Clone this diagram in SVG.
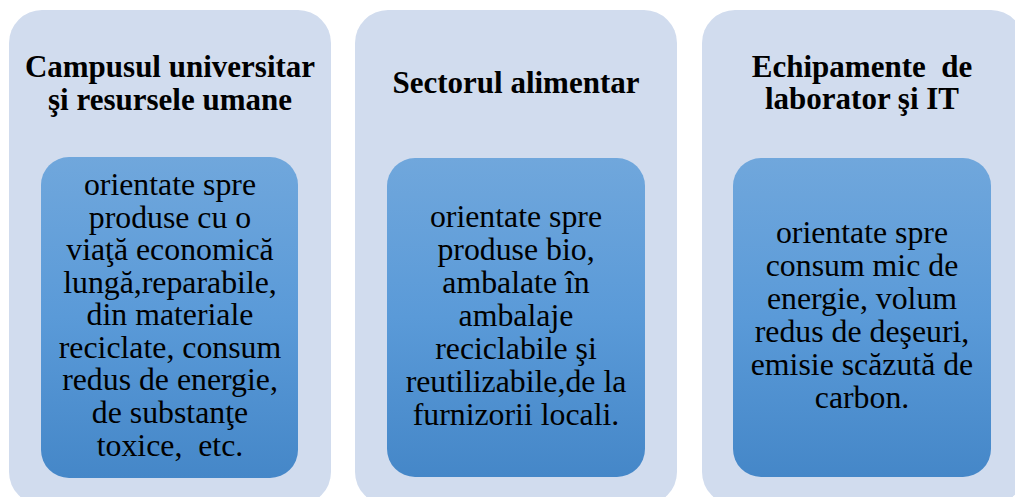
<svg xmlns="http://www.w3.org/2000/svg" width="1015" height="497" viewBox="0 0 1015 497">
<defs>
<linearGradient id="grad" x1="0" y1="0" x2="0" y2="1">
<stop offset="0" stop-color="#70a7dc"/>
<stop offset="0.5" stop-color="#5a9ad8"/>
<stop offset="1" stop-color="#4587c8"/>
</linearGradient>
</defs>
<style>
.panel{fill:#d1dcee}
.inner{fill:url(#grad)}
.ttl{font-family:'Liberation Serif',serif;font-weight:bold;font-size:31px;fill:#000;text-anchor:middle}
.bdy{font-family:'Liberation Serif',serif;font-size:31.8px;fill:#000;text-anchor:middle}
</style>
<rect width="1015" height="497" fill="#fff"/>
<g id="node1">
<rect class="panel" x="9" y="10" width="322" height="495" rx="33"/>
<text class="ttl" x="170" y="77">Campusul universitar</text>
<text class="ttl" x="170" y="110">şi resursele umane</text>
<rect class="inner" x="41" y="157" width="257" height="321" rx="28"/>
<text class="bdy" x="170" y="195">orientate spre</text>
<text class="bdy" x="170" y="227.5">produse cu o</text>
<text class="bdy" x="170" y="260">viaţă economică</text>
<text class="bdy" x="170" y="293">lungă,reparabile,</text>
<text class="bdy" x="170" y="325">din materiale</text>
<text class="bdy" x="170" y="358">reciclate, consum</text>
<text class="bdy" x="170" y="390">redus de energie,</text>
<text class="bdy" x="170" y="423">de substanţe</text>
<text class="bdy" x="170" y="456" xml:space="preserve">toxice,  etc.</text>
</g>
<g id="node2">
<rect class="panel" x="355" y="10" width="322" height="495" rx="33"/>
<text class="ttl" x="516" y="93">Sectorul alimentar</text>
<rect class="inner" x="387" y="158" width="258" height="319" rx="28"/>
<text class="bdy" x="516" y="227">orientate spre</text>
<text class="bdy" x="516" y="260">produse bio,</text>
<text class="bdy" x="516" y="293">ambalate în</text>
<text class="bdy" x="516" y="326">ambalaje</text>
<text class="bdy" x="516" y="359">reciclabile şi</text>
<text class="bdy" x="516" y="392">reutilizabile,de la</text>
<text class="bdy" x="516" y="425">furnizorii locali.</text>
</g>
<g id="node3">
<rect class="panel" x="702" y="10" width="322" height="495" rx="33"/>
<text class="ttl" x="862" y="77" xml:space="preserve">Echipamente  de</text>
<text class="ttl" x="862" y="109">laborator şi IT</text>
<rect class="inner" x="733" y="158" width="258" height="319" rx="28"/>
<text class="bdy" x="862" y="243">orientate spre</text>
<text class="bdy" x="862" y="276">consum mic de</text>
<text class="bdy" x="862" y="309">energie, volum</text>
<text class="bdy" x="862" y="342">redus de deşeuri,</text>
<text class="bdy" x="862" y="375">emisie scăzută de</text>
<text class="bdy" x="862" y="408">carbon.</text>
</g>
<g id="connectors"/>
</svg>
